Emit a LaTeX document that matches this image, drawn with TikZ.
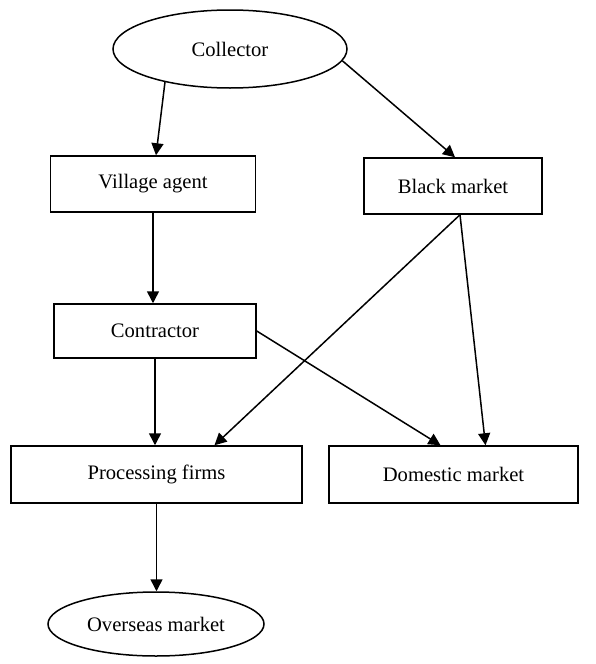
\documentclass[tikz,border=0pt]{standalone}
\usepackage{fontspec}
\setmainfont{Liberation Serif}
\usetikzlibrary{arrows.meta,shapes.geometric}
\begin{document}
\begin{tikzpicture}[x=1pt, y=-1pt, line width=1.5pt,
  box/.style={draw, rectangle, inner sep=0pt, minimum height=56pt},
  oval/.style={draw, ellipse, inner sep=0pt},
  arr/.style={-{Triangle[length=12pt,width=12pt]}},
  font=\fontsize{20.6}{24}\selectfont]
\useasboundingbox (0,0) rectangle (596,664);
\node[oval, minimum width=234pt, minimum height=78pt] (coll) at (230,49) {Collector};
\node[box, minimum width=205pt] (va) at (153,184) {Village agent};
\draw[arr] (coll.207) -- ([xshift=3pt]va.north);
\node[box, minimum width=178pt] (bm) at (453,186) {Black market};
\draw[arr] (coll.-6) -- ([xshift=2pt]bm.north);
\node[box, minimum width=202pt, minimum height=54pt] (ct) at (155,331) {Contractor};
\draw[arr] (va.south) -- (va.south |- ct.north);
\node[box, minimum width=291pt, minimum height=57pt] (pf) at (156.5,474.5) {Processing firms};
\draw[arr] (ct.south) -- (ct.south |- pf.north);
\draw[arr] ([xshift=7pt]bm.south) -- ([xshift=58pt]pf.north);
\node[box, minimum width=249pt, minimum height=57pt] (dm) at (453.5,474.5) {Domestic market};
\draw[arr] ([xshift=7pt]bm.south) -- ([xshift=32pt]dm.north);
\draw[arr] (ct.east) -- ([xshift=-13pt]dm.north);
\node[oval, minimum width=216pt, minimum height=64pt] (os) at (156,624) {Overseas market};
\draw[arr] (pf.south) -- (pf.south |- os.north);
\end{tikzpicture}
\end{document}
